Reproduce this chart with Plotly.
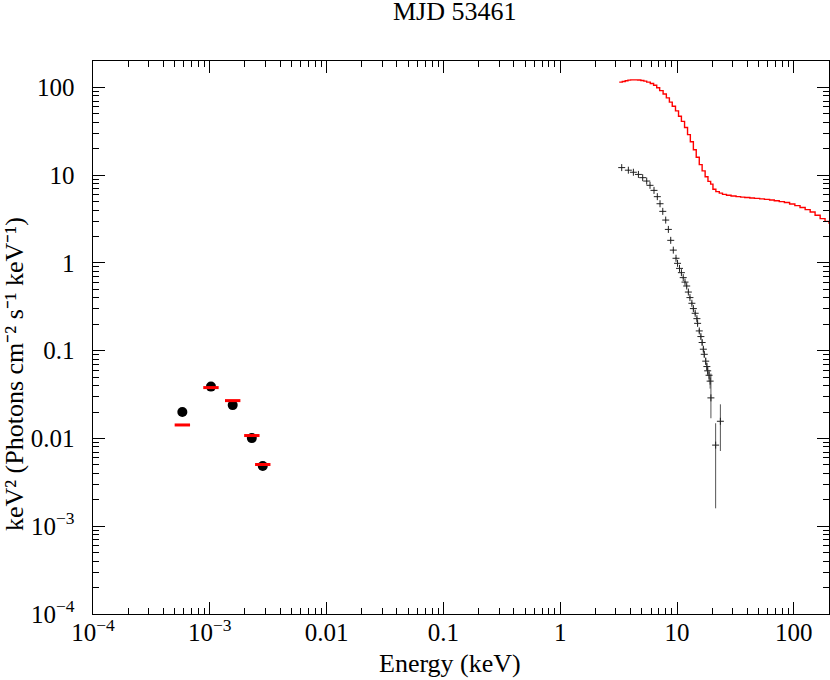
import plotly.graph_objects as go

# ---- data ----
# UV/optical points (keV) with black data circles and red model dashes
uv_energy = [5.82e-4, 1.023e-3, 1.57e-3, 2.29e-3, 2.84e-3]
uv_data = [0.0200, 0.0390, 0.0240, 0.0101, 0.00486]
uv_model = [0.01425, 0.0380, 0.0270, 0.0108, 0.00505]

# X-ray data (black crosses)
xr_energy = [3.36, 3.83, 4.23, 4.67, 5.08, 5.50, 5.87, 6.35, 6.78, 7.15,
             7.55, 8.00, 8.43, 8.83, 9.29, 9.80, 10.1, 10.5, 10.9, 11.3,
             11.7, 12.1, 12.5, 12.9, 13.4, 13.8, 14.3, 14.8, 15.0, 15.5,
             16.0, 16.4, 16.8, 17.1, 17.6, 18.0, 18.3, 18.8, 19.2, 19.5,
             21.4, 23.5]
xr_flux = [12.2, 11.4, 10.8, 10.2, 9.37, 8.57, 7.66, 6.71, 5.69, 4.73,
           3.87, 3.08, 2.41, 1.81, 1.40, 1.13, 0.99, 0.867, 0.775, 0.68,
           0.605, 0.546, 0.466, 0.403, 0.347, 0.302, 0.267, 0.232, 0.205, 0.168,
           0.145, 0.124, 0.104, 0.091, 0.076, 0.066, 0.059, 0.0525, 0.045, 0.029,
           0.0084, 0.0157]
xr_err_up = [0.2, 0.2, 0.2, 0.2, 0.15, 0.15, 0.12, 0.1, 0.1, 0.08,
             0.07, 0.06, 0.05, 0.04, 0.03, 0.03, 0.03, 0.025, 0.025, 0.02,
             0.02, 0.02, 0.018, 0.016, 0.014, 0.013, 0.012, 0.011, 0.01, 0.009,
             0.008, 0.008, 0.007, 0.007, 0.007, 0.007, 0.007, 0.008, 0.008, 0.026,
             0.0065, 0.0088]
xr_err_dn = [0.2, 0.2, 0.2, 0.2, 0.15, 0.15, 0.12, 0.1, 0.1, 0.08,
             0.07, 0.06, 0.05, 0.04, 0.03, 0.03, 0.03, 0.025, 0.025, 0.02,
             0.02, 0.02, 0.018, 0.016, 0.014, 0.013, 0.012, 0.011, 0.01, 0.009,
             0.008, 0.008, 0.007, 0.007, 0.007, 0.007, 0.007, 0.008, 0.008, 0.012,
             0.0068, 0.0085]

# model curve (red, stepped)
model_energy = [3.2, 3.4, 3.6, 3.8, 4.0, 4.3, 4.6, 4.9, 5.2, 5.5,
                5.9, 6.3, 6.7, 7.1, 7.6, 8.1, 8.6, 9.1, 9.7, 10.3,
                10.9, 11.6, 12.3, 13.0, 13.8, 14.6, 15.5, 16.4, 17.4, 18.4,
                19.4, 20.3, 21.5, 23, 24.5, 26.5, 29, 32, 35, 38,
                42, 46, 51, 56, 62, 68, 75, 83, 92, 102,
                113, 125, 138, 152, 168, 185, 200]
model_flux = [115, 117, 119, 121, 122, 122, 121.5, 120, 118, 115,
              111, 106, 99, 92, 84, 76, 68, 61, 54, 47,
              41, 35, 29, 24, 19.5, 16, 13.2, 11.2, 9.6, 8.5,
              7.9, 6.9, 6.5, 6.25, 6.05, 5.9, 5.8, 5.7, 5.62, 5.56,
              5.5, 5.44, 5.37, 5.3, 5.22, 5.12, 5.0, 4.88, 4.7, 4.5,
              4.28, 4.05, 3.8, 3.5, 3.2, 2.98, 2.8]

x_tickvals = [1e-4, 1e-3, 0.01, 0.1, 1, 10, 100]
x_ticktext = ["10<sup>−4</sup>", "10<sup>−3</sup>", "0.01", "0.1", "1", "10", "100"]
y_tickvals = [1e-4, 1e-3, 0.01, 0.1, 1, 10, 100]
# figure spaces push the labels away from the axis like the original
y_ticktext = ["10<sup>−4</sup>\u2007", "10<sup>−3</sup>\u2007", "0.01\u2007", "0.1\u2007",
              "1\u2007", "10\u2007", "100\u2007"]

serif = "Liberation Serif, Times New Roman, serif"

fig = go.Figure()

fig.add_trace(go.Scatter(
    x=model_energy, y=model_flux, mode="lines", line_shape="hv",
    line=dict(color="red", width=1.4), showlegend=False))

fig.add_trace(go.Scatter(
    x=xr_energy, y=xr_flux, mode="markers",
    marker=dict(symbol="cross-thin", size=5, line=dict(color="#222", width=1)),
    error_y=dict(type="data", symmetric=False, array=xr_err_up, arrayminus=xr_err_dn,
                 color="#555", thickness=1, width=0),
    showlegend=False))

fig.add_trace(go.Scatter(
    x=uv_energy, y=uv_data, mode="markers",
    marker=dict(symbol="circle", size=10, color="black"), showlegend=False))

fig.add_trace(go.Scatter(
    x=uv_energy, y=uv_model, mode="markers",
    marker=dict(symbol="line-ew", size=11, line=dict(color="red", width=3)),
    showlegend=False))

axis_common = dict(
    type="log", showgrid=False, zeroline=False, automargin=False,
    showline=True, linecolor="black", linewidth=1, mirror="allticks",
    ticks="inside", ticklen=12, tickcolor="black", tickwidth=1,
    minor=dict(ticks="inside", ticklen=6, tickcolor="black", dtick="D1", showgrid=False),
    tickfont=dict(family=serif, size=25, color="black"),
)

fig.update_xaxes(axis_common, range=[-4, 2.301], tickvals=x_tickvals, ticktext=x_ticktext,
                 ticklabelstandoff=-4)
fig.update_yaxes(axis_common, range=[-4, 2.301], tickvals=y_tickvals, ticktext=y_ticktext)

title_font = dict(family=serif, size=26, color="black")
fig.add_annotation(text="MJD 53461", xref="paper", yref="paper",
                   x=(455 - 93) / 736, y=(614 - 12) / 553, xanchor="center", yanchor="middle",
                   showarrow=False, font=title_font)
fig.add_annotation(text="Energy (keV)", xref="paper", yref="paper",
                   x=(450 - 93) / 736, y=(614 - 663) / 553, xanchor="center", yanchor="middle",
                   showarrow=False, font=title_font)
fig.add_annotation(text="keV² (Photons cm⁻² s⁻¹ keV⁻¹)",
                   xref="paper", yref="paper", textangle=-90,
                   x=(14 - 93) / 736, y=(614 - 374) / 553, xanchor="center", yanchor="middle",
                   showarrow=False, font=dict(family=serif, size=26, color="black"))

fig.update_layout(
    width=830, height=680,
    margin=dict(l=93, r=1, t=61, b=66),
    paper_bgcolor="white", plot_bgcolor="white",
)

# drop the default page margin so the 830x680 figure fills the window exactly
fig.write_html("out.html", config={"displayModeBar": False},
               post_script="document.body.style.margin='0';document.body.style.overflow='hidden';")
